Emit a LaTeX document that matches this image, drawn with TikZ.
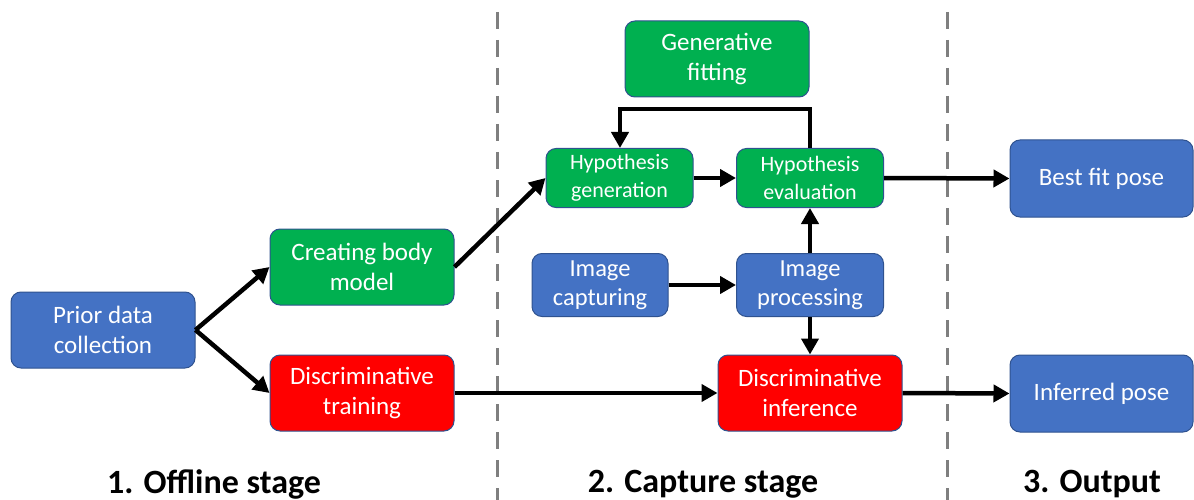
\documentclass[tikz,border=0pt]{standalone}
\usepackage{fontspec}
\setmainfont{Carlito}
\usetikzlibrary{arrows.meta}
\definecolor{oblue}{HTML}{4472C4}
\definecolor{ogreen}{HTML}{00B050}
\definecolor{ored}{HTML}{FF0000}
\definecolor{oedge}{HTML}{2F528F}
\definecolor{dgray}{HTML}{7F7F7F}
\begin{document}
\begin{tikzpicture}[x=1pt,y=-1pt,
  box/.style={draw=oedge,line width=1pt,rounded corners=10pt,text=white,align=center,inner sep=0pt,font=\fontsize{25}{30}\selectfont},
  bluebox/.style={box,fill=oblue},
  greenbox/.style={box,fill=ogreen},
  redbox/.style={box,fill=ored},
  conn/.style={line width=4.5pt,-{Triangle[length=16pt,width=17pt]}},
  sep/.style={dgray,line width=3pt,dash pattern=on 17pt off 11pt},
  stage/.style={font=\bfseries\fontsize{34}{38}\selectfont,anchor=center}]
\useasboundingbox (0,0) rectangle (1194,500);
% separators
\draw[sep] (497,12) -- (497,500);
\draw[sep] (947,12) -- (947,500);
% nodes
\node[bluebox,minimum width=184pt,minimum height=76pt] (prior) at (103,330) {Prior data\\collection};
\node[greenbox,minimum width=184pt,minimum height=76pt] (body) at (362,267) {Creating body\\model};
\node[redbox,minimum width=184pt,minimum height=76pt] (dtrain) at (362,393) {Discriminative\\training};
\node[greenbox,minimum width=184pt,minimum height=76pt] (genfit) at (717,59) {Generative\\fitting};
\node[greenbox,minimum width=147pt,minimum height=59pt,font=\fontsize{22}{28}\selectfont] (hgen) at (619.5,178) {Hypothesis\\generation};
\node[greenbox,minimum width=147pt,minimum height=59pt,font=\fontsize{22}{28}\selectfont] (heval) at (810,178) {Hypothesis\\evaluation};
\node[bluebox,minimum width=136pt,minimum height=63pt,font=\fontsize{24.5}{29}\selectfont] (icap) at (600,285) {Image\\capturing};
\node[bluebox,minimum width=147pt,minimum height=63pt,font=\fontsize{24.5}{29}\selectfont] (iproc) at (810,285) {Image\\processing};
\node[redbox,minimum width=184pt,minimum height=76pt] (dinf) at (810,393) {Discriminative\\inference};
\node[bluebox,minimum width=183pt,minimum height=77pt] (best) at (1101.5,178.5) {Best fit pose};
\node[bluebox,minimum width=183pt,minimum height=77pt] (inf) at (1101.5,393.5) {Inferred pose};
% stage labels
\node[stage] (s1) at (214,484) {1. Offline stage};
\node[stage] (s2) at (703,484) {2. Capture stage};
\node[stage] (s3) at (1092,484) {3. Output};
% connectors
\coordinate (pr) at (prior.east);
\draw[conn] (pr) -- (body.west);
\draw[conn] (pr) -- (dtrain.west);
\draw[conn] (body.east) -- (hgen.west);
\draw[conn] (hgen.east) -- (heval.west);
\draw[conn] (heval.north) -- (810,109) -- (620,109) -- (hgen.north -| 620,0);
\draw[conn] (icap.east) -- (iproc.west);
\draw[conn] (iproc.north) -- (heval.south);
\draw[conn] (iproc.south) -- (dinf.north);
\draw[conn] (dtrain.east) -- (dinf.west);
\draw[conn] (heval.east) -- (best.west);
\draw[conn] (dinf.east) -- (inf.west);
\end{tikzpicture}
\end{document}
